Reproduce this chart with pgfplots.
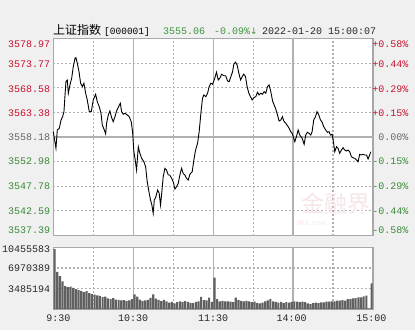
\documentclass[border=0pt]{standalone}
\usepackage{pgfplots}
\pgfplotsset{compat=1.18}
\usepackage{fontspec}
\setmainfont{Liberation Sans}
\newfontfamily\mono{Liberation Mono}
\newfontfamily\cjk{Noto Sans CJK SC}
\newfontfamily\dejavu{DejaVu Sans}
\definecolor{bg}{HTML}{F0F0F0}
\definecolor{upred}{HTML}{C8102E}
\definecolor{dngreen}{HTML}{3A8A3A}
\definecolor{hdgreen}{HTML}{3C963C}
\definecolor{midgray}{HTML}{666666}
\definecolor{gridc}{HTML}{B0B0B0}
\definecolor{framec}{HTML}{A8A8A8}
\definecolor{volc}{HTML}{606060}
\definecolor{wm}{RGB}{246,230,232}
\newcommand\lf{\mono\fontsize{10pt}{12pt}\selectfont}

\tikzset{lab/.style={inner sep=0pt, font=\lf}}
\pgfplotsset{
  panel/.style={
    anchor=south west, scale only axis, width=319.7pt,
    xmin=0, xmax=240,
    axis line style={draw=framec, line width=1.1pt},
    xtick=\empty, ytick=\empty,
    clip=false,
  },
  dgrid/.style={draw=gridc, line width=1.2pt, dash pattern=on 2pt off 2pt, forget plot},
  sgrid/.style={draw=gridc, line width=1.2pt, solid, forget plot},
}

\begin{document}
\begin{tikzpicture}
\fill[bg] (0pt,0pt) rectangle (415pt,330pt);
\fill[white] (53.3pt,94.5pt) rectangle (373pt,291.5pt);
\fill[white] (53.3pt,21pt) rectangle (373pt,82.5pt);

% header
\node[anchor=base west, inner sep=0pt, font=\cjk\fontsize{12pt}{12pt}\selectfont] at (53pt,295pt) {上证指数};
\node[anchor=base west, inner sep=0pt, font=\mono\fontsize{9.5pt}{12pt}\selectfont] at (104pt,295pt) {[000001]};
\node[anchor=base west, inner sep=0pt, font=\lf, text=hdgreen] at (163pt,295pt) {3555.06};
\node[anchor=base west, inner sep=0pt, font=\lf, text=hdgreen] at (214pt,295pt) {-0.09\%{\dejavu\fontsize{9pt}{12pt}\selectfont↓}};
\node[anchor=base west, inner sep=0pt, font=\lf, text=black!85] at (262pt,295pt) {2022-01-20 15:00:07};

% price panel
\begin{axis}[panel, at={(53.3pt,94.5pt)}, height=197pt,
  ymin=3537.39, ymax=3578.97]
\addplot[dgrid] coordinates {(30,3537.39)(30,3578.97)};
\addplot[dgrid] coordinates {(90,3537.39)(90,3578.97)};
\addplot[dgrid] coordinates {(150,3537.39)(150,3578.97)};
\addplot[dgrid] coordinates {(210,3537.39)(210,3578.97)};
\addplot[sgrid] coordinates {(60,3537.39)(60,3578.97)};
\addplot[sgrid] coordinates {(120,3537.39)(120,3578.97)};
\addplot[sgrid] coordinates {(180,3537.39)(180,3578.97)};
\addplot[dgrid] coordinates {(0,3542.59)(240,3542.59)};
\addplot[dgrid] coordinates {(0,3547.78)(240,3547.78)};
\addplot[dgrid] coordinates {(0,3552.98)(240,3552.98)};
\addplot[sgrid] coordinates {(0,3558.18)(240,3558.18)};
\addplot[dgrid] coordinates {(0,3563.38)(240,3563.38)};
\addplot[dgrid] coordinates {(0,3568.58)(240,3568.58)};
\addplot[dgrid] coordinates {(0,3573.77)(240,3573.77)};
\node[font=\cjk\fontsize{23pt}{23pt}\selectfont, text=wm, inner sep=0pt] at (axis cs:212,3544.2) {金融界};
\node[font=\mono\fontsize{7pt}{8pt}\selectfont, text=wm, inner sep=0pt] at (axis cs:193,3540.0) {JRJ.com};
\addplot[black, line width=0.9pt] coordinates {
(0,3559.30)(2.0,3555.79)(3.0,3559.66)(4.5,3560.02)(5.8,3561.77)(7.0,3562.47)(8.0,3563.53)(8.8,3567.05)(9.5,3569.86)(10.5,3570.22)
(11.3,3567.41)(12.5,3569.17)(13.8,3570.58)(15.0,3573.03)(16.3,3574.81)(17.0,3574.93)(18.0,3573.75)(19.3,3571.98)(20.5,3569.53)(21.8,3568.81)
(23.0,3569.53)(24.3,3567.41)(25.5,3566.00)(27.0,3563.53)(28.5,3563.53)(30.0,3566.00)(31.8,3567.20)(33.0,3565.64)(34.5,3564.58)(35.8,3563.19)
(36.8,3560.72)(38.3,3559.66)(39.3,3558.81)(40.0,3561.07)(41.3,3562.83)(42.5,3563.67)(43.8,3562.26)(45.0,3561.41)(46.3,3562.47)(47.5,3563.67)
(49.0,3564.58)(50.3,3565.30)(51.3,3563.53)(52.5,3562.98)(53.8,3563.19)(55.5,3562.83)(57.0,3562.47)(58.5,3561.41)(59.5,3559.30)(60.5,3555.07)
(61.5,3553.32)(62.5,3551.21)(63.8,3556.13)(65.0,3554.74)(66.3,3553.68)(68.0,3552.96)(69.3,3551.91)(70.5,3548.74)(71.8,3546.62)(73.0,3544.87)
(74.0,3543.81)(75.0,3542.06)(75.8,3544.87)(77.0,3545.57)(78.3,3546.98)(79.5,3546.29)(80.5,3543.81)(81.5,3546.62)(82.5,3549.79)(83.8,3551.57)
(85.0,3551.21)(86.3,3550.15)(87.5,3550.15)(88.8,3549.45)(90.0,3548.74)(91.3,3547.19)(92.5,3547.68)(93.8,3548.40)(95.0,3550.15)(96.3,3551.57)
(97.5,3550.51)(98.8,3550.15)(100.0,3549.45)(101.3,3549.09)(102.5,3550.30)(104.3,3550.85)(105.5,3553.32)(106.8,3555.43)(108.3,3556.85)(109.5,3559.30)
(110.8,3563.19)(112.0,3566.36)(113.0,3567.05)(114.5,3566.69)(115.8,3567.41)(117.0,3568.81)(118.3,3569.53)(119.5,3569.31)(120.8,3570.22)(122.5,3571.85)
(123.8,3570.22)(125.0,3570.58)(126.3,3571.43)(128.0,3571.13)(129.5,3571.07)(130.8,3570.01)(132.0,3569.86)(133.3,3570.92)(134.6,3571.98)(135.5,3573.54)
(136.8,3573.96)(138.0,3573.39)(139.3,3571.64)(140.6,3570.22)(141.8,3570.92)(143.0,3571.43)(144.3,3570.92)(145.5,3568.81)(146.8,3567.41)(148.0,3566.69)
(149.3,3566.00)(150.5,3566.48)(152.0,3566.69)(153.3,3567.62)(154.5,3567.05)(155.8,3567.41)(157.0,3567.20)(158.3,3567.75)(159.5,3567.41)(160.8,3568.81)
(162.0,3569.17)(163.3,3567.75)(164.6,3565.79)(165.8,3564.94)(167.0,3564.10)(168.3,3562.83)(169.5,3561.56)(170.8,3561.77)(172.0,3562.47)(173.0,3561.56)
(174.5,3561.07)(175.8,3560.57)(177.0,3560.02)(178.3,3559.30)(179.5,3558.81)(181.3,3557.19)(182.5,3558.24)(183.8,3559.66)(185.0,3558.60)(186.8,3557.91)
(188.3,3556.64)(189.5,3558.60)(190.8,3559.17)(192.0,3558.96)(193.3,3558.60)(194.3,3559.30)(195.5,3561.77)(196.8,3562.47)(198.0,3563.53)(199.3,3562.83)
(200.6,3561.77)(201.8,3561.29)(203.0,3560.36)(204.5,3559.66)(205.8,3559.17)(207.0,3559.30)(208.1,3558.60)(209.3,3558.75)(210.3,3557.19)(211.3,3555.07)
(212.6,3556.13)(213.8,3555.79)(215.0,3554.74)(216.3,3555.43)(217.5,3555.92)(218.8,3555.43)(220.1,3555.22)(221.3,3555.43)(222.5,3555.07)(223.8,3554.02)
(225.0,3553.81)(226.3,3553.68)(227.6,3553.32)(228.8,3552.96)(230.0,3554.52)(231.3,3554.38)(232.5,3554.52)(233.8,3554.38)(235.1,3554.38)(236.3,3553.53)
(237.5,3554.38)(238.3,3555.06)
};
% left price labels
\node[lab, anchor=east, text=upred, xshift=-3pt, yshift=-6pt] at (axis cs:0,3578.97) {3578.97};
\node[lab, anchor=east, text=upred, xshift=-3pt, yshift=-1pt] at (axis cs:0,3573.77) {3573.77};
\node[lab, anchor=east, text=upred, xshift=-3pt, yshift=-1pt] at (axis cs:0,3568.58) {3568.58};
\node[lab, anchor=east, text=upred, xshift=-3pt, yshift=-1pt] at (axis cs:0,3563.38) {3563.38};
\node[lab, anchor=east, text=midgray, xshift=-3pt, yshift=-0.5pt] at (axis cs:0,3558.18) {3558.18};
\node[lab, anchor=east, text=dngreen, xshift=-3pt, yshift=0pt] at (axis cs:0,3552.98) {3552.98};
\node[lab, anchor=east, text=dngreen, xshift=-3pt, yshift=0pt] at (axis cs:0,3547.78) {3547.78};
\node[lab, anchor=east, text=dngreen, xshift=-3pt, yshift=0pt] at (axis cs:0,3542.59) {3542.59};
\node[lab, anchor=east, text=dngreen, xshift=-3pt, yshift=5.5pt] at (axis cs:0,3537.39) {3537.39};
% right percent labels
\node[lab, anchor=east, text=upred, xshift=35.5pt, yshift=-6pt] at (axis cs:240,3578.97) {+0.58\%};
\node[lab, anchor=east, text=upred, xshift=35.5pt, yshift=-1pt] at (axis cs:240,3573.77) {+0.44\%};
\node[lab, anchor=east, text=upred, xshift=35.5pt, yshift=-1pt] at (axis cs:240,3568.58) {+0.29\%};
\node[lab, anchor=east, text=upred, xshift=35.5pt, yshift=-1pt] at (axis cs:240,3563.38) {+0.15\%};
\node[lab, anchor=east, text=midgray, xshift=35.5pt, yshift=-0.5pt] at (axis cs:240,3558.18) {0.00\%};
\node[lab, anchor=east, text=dngreen, xshift=35.5pt, yshift=0pt] at (axis cs:240,3552.98) {-0.15\%};
\node[lab, anchor=east, text=dngreen, xshift=35.5pt, yshift=0pt] at (axis cs:240,3547.78) {-0.29\%};
\node[lab, anchor=east, text=dngreen, xshift=35.5pt, yshift=0pt] at (axis cs:240,3542.59) {-0.44\%};
\node[lab, anchor=east, text=dngreen, xshift=35.5pt, yshift=5.5pt] at (axis cs:240,3537.39) {-0.58\%};
\end{axis}

% volume panel
\begin{axis}[panel, at={(53.3pt,21pt)}, height=61.5pt,
  ymin=0, ymax=10455583, scaled y ticks=false]
\addplot[dgrid] coordinates {(30,0)(30,10455583)};
\addplot[dgrid] coordinates {(90,0)(90,10455583)};
\addplot[dgrid] coordinates {(150,0)(150,10455583)};
\addplot[dgrid] coordinates {(210,0)(210,10455583)};
\addplot[sgrid] coordinates {(60,0)(60,10455583)};
\addplot[sgrid] coordinates {(120,0)(120,10455583)};
\addplot[sgrid] coordinates {(180,0)(180,10455583)};
\addplot[dgrid] coordinates {(0,3485194)(240,3485194)};
\addplot[dgrid] coordinates {(0,6970389)(240,6970389)};
\addplot[ybar, bar width=1.6, fill=volc, draw=none] coordinates {
(1,10200000)(3,6300000)(5,5600000)(7,4700000)(9,3900000)(11,3700000)(13,3800000)(15,3600000)(17,3400000)(19,3200000)
(21,3100000)(23,2850000)(25,3050000)(27,2700000)(29,2550000)(31,2450000)(33,2300000)(35,2250000)(37,2000000)(39,2100000)
(41,1800000)(43,1700000)(45,1850000)(47,1600000)(49,1550000)(51,1450000)(53,1500000)(55,1400000)(57,1450000)(59,1700000)
(61,2500000)(63,2100000)(65,1600000)(67,1400000)(69,1450000)(71,1550000)(73,1900000)(75,2500000)(77,1750000)(79,1550000)
(81,1350000)(83,1550000)(85,1300000)(87,1100000)(89,1200000)(91,950000)(93,1150000)(95,1300000)(97,1200000)(99,1350000)
(101,1200000)(103,1050000)(105,1000000)(107,1200000)(109,1300000)(111,2050000)(113,1500000)(115,1450000)(117,1950000)(119,1200000)
(121,5350000)(123,1700000)(125,1300000)(127,1400000)(129,1300000)(131,1300000)(133,1250000)(135,1150000)(137,1950000)(139,1500000)
(141,1400000)(143,1300000)(145,1400000)(147,1300000)(149,1150000)(151,1250000)(153,1000000)(155,950000)(157,1100000)(159,1300000)
(161,1450000)(163,1700000)(165,1300000)(167,1200000)(169,1100000)(171,1200000)(173,1000000)(175,1150000)(177,1100000)(179,1200000)
(181,1300000)(183,1250000)(185,1150000)(187,1250000)(189,1150000)(191,960000)(193,850000)(195,1000000)(197,1100000)(199,1020000)
(201,1130000)(203,1130000)(205,1250000)(207,1250000)(209,1300000)(211,1300000)(213,1420000)(215,1420000)(217,1530000)(219,1420000)
(221,1700000)(223,1700000)(225,1810000)(227,1870000)(229,1980000)(231,1980000)(233,2150000)(235,2270000)(237,80000)(239,4350000)
};
\node[lab, anchor=east, text=black!85, xshift=-3pt, yshift=-2pt] at (axis cs:0,10455583) {10455583};
\node[lab, anchor=east, text=black!85, xshift=-3pt, yshift=-0.5pt] at (axis cs:0,6970389) {6970389};
\node[lab, anchor=east, text=black!85, xshift=-3pt, yshift=-0.5pt] at (axis cs:0,3485194) {3485194};
\node[lab, anchor=center, text=black!85, xshift=5pt, yshift=-9pt] at (axis cs:0,0) {9:30};
\node[lab, anchor=center, text=black!85, yshift=-9pt] at (axis cs:60,0) {10:30};
\node[lab, anchor=center, text=black!85, yshift=-9pt] at (axis cs:120,0) {11:30};
\node[lab, anchor=center, text=black!85, xshift=-1.5pt, yshift=-9pt] at (axis cs:180,0) {14:00};
\node[lab, anchor=center, text=black!85, xshift=-1.5pt, yshift=-9pt] at (axis cs:240,0) {15:00};
\end{axis}
\end{tikzpicture}
\end{document}
